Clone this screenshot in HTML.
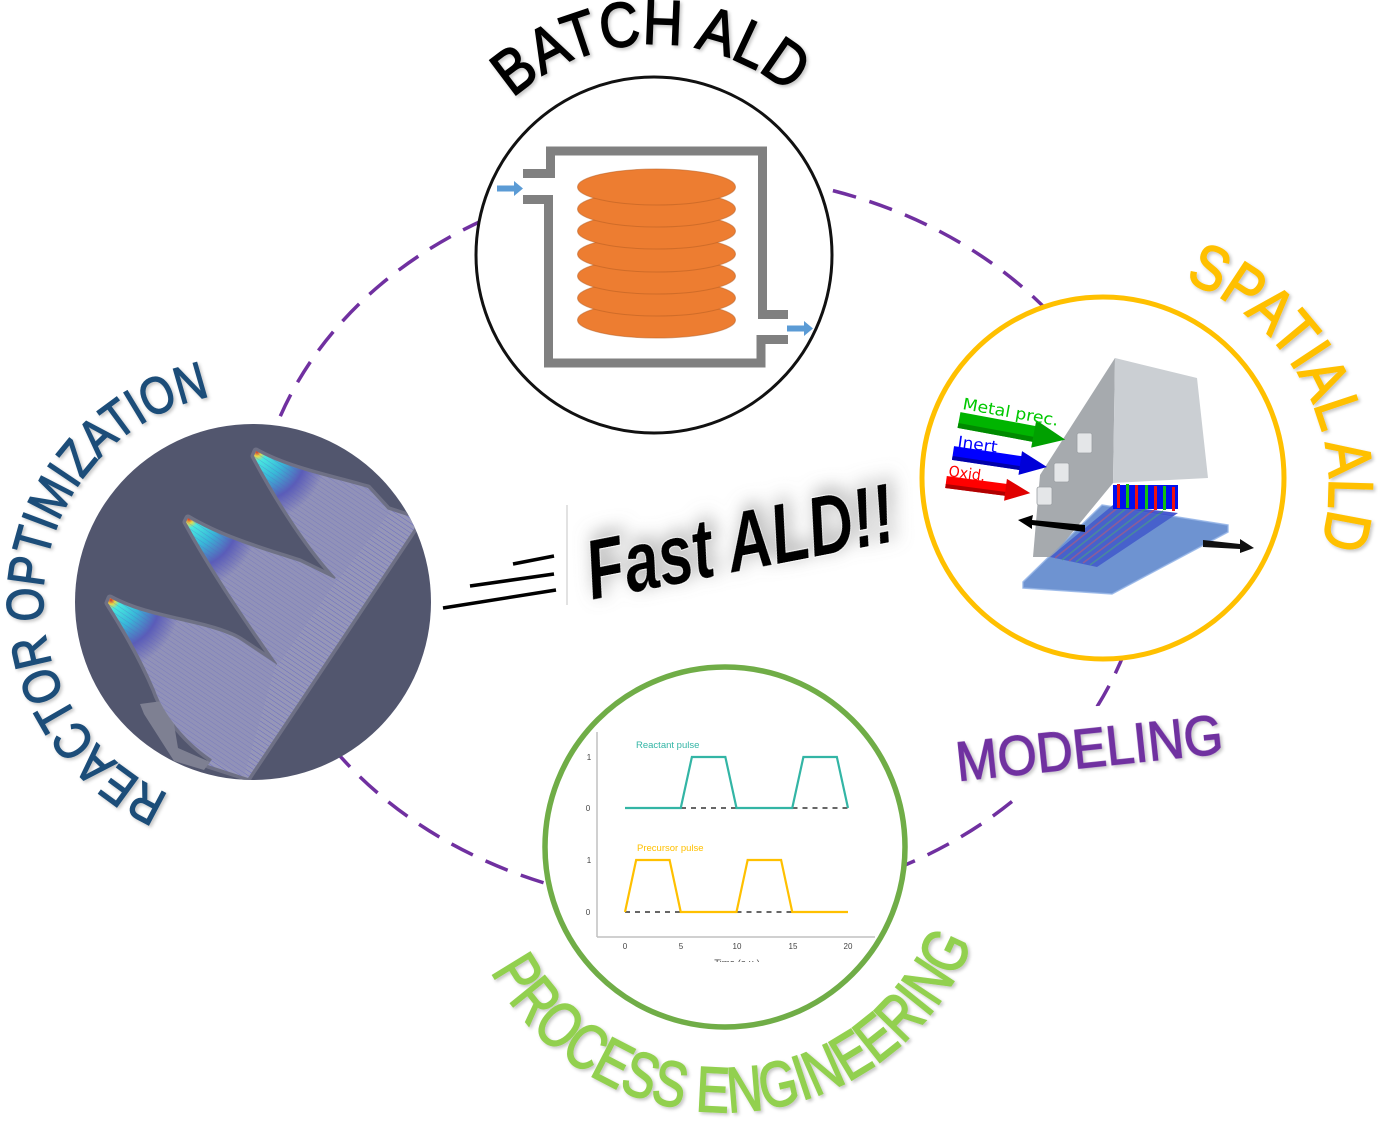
<!DOCTYPE html>
<html><head><meta charset="utf-8">
<style>html,body{margin:0;padding:0;background:#fff}svg{display:block}</style>
</head>
<body>
<svg width="1378" height="1125" viewBox="0 0 1378 1125" xmlns="http://www.w3.org/2000/svg">
<defs>
  <path id="pBatch" d="M512.8,98.2 A211,211 0 0 1 792.4,95.8"/>
  <path id="pSpatial" d="M1184.5,281.1 A219,219 0 0 1 1319.8,549.9"/>
  <path id="pReactor" d="M168.9,794.4 A210,210 0 0 1 213.6,395.7"/>
  <path id="pProcess" d="M491,971.4 A265,265 0 0 0 974,937.6"/>
  <filter id="tsh" x="-10%" y="-10%" width="120%" height="120%">
    <feGaussianBlur in="SourceAlpha" stdDeviation="1.5"/>
    <feOffset dx="2" dy="2" result="o"/>
    <feFlood flood-color="#000" flood-opacity="0.22"/>
    <feComposite in2="o" operator="in" result="s"/>
    <feMerge><feMergeNode in="s"/><feMergeNode in="SourceGraphic"/></feMerge>
  </filter>
  <filter id="fsh" x="-20%" y="-50%" width="140%" height="200%">
    <feGaussianBlur in="SourceAlpha" stdDeviation="9"/>
    <feOffset dx="5" dy="-5" result="o"/>
    <feFlood flood-color="#888" flood-opacity="0.75"/>
    <feComposite in2="o" operator="in" result="s"/>
    <feMerge><feMergeNode in="s"/><feMergeNode in="SourceGraphic"/></feMerge>
  </filter>
  <pattern id="lines" width="4" height="4" patternUnits="userSpaceOnUse" patternTransform="rotate(34)">
    <line x1="0" y1="0" x2="4" y2="0" stroke="#5a5ac8" stroke-width="0.9"/>
  </pattern>
  <radialGradient id="g1" gradientUnits="userSpaceOnUse" cx="257" cy="452" r="70">
    <stop offset="0" stop-color="#d83020"/><stop offset="0.06" stop-color="#e8d848"/>
    <stop offset="0.13" stop-color="#48e8e0"/><stop offset="0.4" stop-color="#38b8d8"/>
    <stop offset="0.7" stop-color="#5a5cb8"/><stop offset="1" stop-color="#9192b8"/>
  </radialGradient>
  <radialGradient id="g2" gradientUnits="userSpaceOnUse" cx="189" cy="519" r="70">
    <stop offset="0" stop-color="#d83020"/><stop offset="0.06" stop-color="#e8d848"/>
    <stop offset="0.13" stop-color="#48e8e0"/><stop offset="0.4" stop-color="#38b8d8"/>
    <stop offset="0.7" stop-color="#5a5cb8"/><stop offset="1" stop-color="#9192b8"/>
  </radialGradient>
  <radialGradient id="g3" gradientUnits="userSpaceOnUse" cx="111" cy="600" r="70">
    <stop offset="0" stop-color="#d83020"/><stop offset="0.06" stop-color="#e8d848"/>
    <stop offset="0.13" stop-color="#48e8e0"/><stop offset="0.4" stop-color="#38b8d8"/>
    <stop offset="0.7" stop-color="#5a5cb8"/><stop offset="1" stop-color="#9192b8"/>
  </radialGradient>
  <clipPath id="cReactor"><circle cx="253" cy="602" r="178"/></clipPath>
  <clipPath id="cProc"><circle cx="725" cy="847" r="178"/></clipPath>
  <clipPath id="cChart"><rect x="560" y="720" width="340" height="242"/></clipPath>
</defs>

<rect width="1378" height="1125" fill="#fff"/>

<!-- dashed ellipse -->
<ellipse cx="700" cy="540" rx="446" ry="366" fill="none" stroke="#7030a0" stroke-width="3.5" stroke-dasharray="24 14"/>

<!-- ===== BATCH ALD ===== -->
<circle cx="654" cy="255" r="178" fill="#fff" stroke="#111" stroke-width="3"/>
<g fill="none" stroke="#808080" stroke-width="9" stroke-linejoin="miter">
  <path d="M523,173.5 H550.5 V151 H762.5 V314.5 H788"/>
  <path d="M523,199.5 H548.5 V363 H761 V339.5 H788"/>
</g>
<g fill="#5b9bd5">
  <polygon points="497,185.5 514,185.5 514,181 523,188.5 514,196 514,191.5 497,191.5"/>
  <polygon points="787,325.5 804,325.5 804,321 813,328.5 804,336 804,331.5 787,331.5"/>
</g>
<g fill="#ed7d31" stroke="#b85f22" stroke-width="1" stroke-opacity="0.55">
  <ellipse cx="656.5" cy="320" rx="79" ry="18"/>
  <ellipse cx="656.5" cy="298" rx="79" ry="18"/>
  <ellipse cx="656.5" cy="276" rx="79" ry="18"/>
  <ellipse cx="656.5" cy="254" rx="79" ry="18"/>
  <ellipse cx="656.5" cy="231" rx="79" ry="18"/>
  <ellipse cx="656.5" cy="209" rx="79" ry="18"/>
  <ellipse cx="656.5" cy="187" rx="79" ry="18"/>
</g>
<text font-family="Liberation Sans, sans-serif" font-size="63" fill="#000" stroke="#000" stroke-width="1.6" filter="url(#tsh)"><textPath href="#pBatch" textLength="302" lengthAdjust="spacingAndGlyphs">BATCH ALD</textPath></text>

<!-- ===== SPATIAL ALD ===== -->
<circle cx="1103" cy="478" r="181" fill="#fff" stroke="#ffc000" stroke-width="5"/>
<polygon points="1102,505 1228,525 1228,532 1112,594 1023,588 1023,582" fill="#7096d2" stroke="#a4c0ec" stroke-width="1.5"/>
<polygon points="1115,358 1040,475 1033,557 1052,557 1113,483" fill="#a6aaae"/>
<polygon points="1115,358 1197,378 1208,478 1113,483" fill="#cbcfd3"/>
<g fill="#e4e6e8" stroke="#9a9ea2" stroke-width="0.8">
  <rect x="1077" y="433" width="15" height="20" rx="2"/>
  <rect x="1054" y="463" width="15" height="19" rx="2"/>
  <rect x="1037" y="487" width="15" height="18" rx="2"/>
</g>
<polygon points="1113,505 1178,513 1097,567 1050,557" fill="#2a3cc8" opacity="0.85"/>
<g stroke-width="1.6" opacity="0.75">
  <line x1="1120" y1="506" x2="1055" y2="558" stroke="#c04060"/>
  <line x1="1128" y1="507" x2="1062" y2="560" stroke="#3a9a6a"/>
  <line x1="1136" y1="508" x2="1069" y2="561" stroke="#c04060"/>
  <line x1="1145" y1="509" x2="1076" y2="562" stroke="#3a9a6a"/>
  <line x1="1154" y1="510" x2="1083" y2="563" stroke="#c04060"/>
  <line x1="1163" y1="511" x2="1090" y2="565" stroke="#3a9a6a"/>
</g>
<polygon points="1102,505 1228,525 1228,532 1112,594 1023,588 1023,582" fill="#6a90d0" opacity="0.35"/>
<g>
  <rect x="1113" y="485" width="65" height="24" fill="#0010ee"/>
  <rect x="1117" y="484" width="3" height="24" fill="#ee1010"/>
  <rect x="1126" y="484" width="3" height="24" fill="#10c010"/>
  <rect x="1135" y="485" width="3" height="24" fill="#ee1010"/>
  <rect x="1145" y="485" width="3" height="24" fill="#10c010"/>
  <rect x="1154" y="486" width="3" height="24" fill="#ee1010"/>
  <rect x="1163" y="486" width="3" height="24" fill="#10c010"/>
  <rect x="1172" y="487" width="3" height="24" fill="#ee1010"/>
</g>
<polygon points="1085,525 1032,520 1033,515 1018,520 1032,529 1032,525 1085,532" fill="#000"/>
<polygon points="1203,540 1240,544 1240,539 1254,548 1240,553 1240,549 1203,547" fill="#111"/>
<g transform="translate(959,420) rotate(10.5)">
  <rect x="0" y="-8" width="78" height="16" fill="#00b400"/>
  <rect x="0" y="3" width="78" height="5" fill="#008a00"/>
  <polygon points="76,-14 108,0 76,14" fill="#00a000"/>
</g>
<g transform="translate(953,453) rotate(8.5)">
  <rect x="0" y="-7" width="70" height="14" fill="#0000ff"/>
  <rect x="0" y="3" width="70" height="4" fill="#0000a8"/>
  <polygon points="68,-12 95,0 68,12" fill="#0000d8"/>
</g>
<g transform="translate(946,482) rotate(7.5)">
  <rect x="0" y="-6" width="62" height="12" fill="#ff0000"/>
  <rect x="0" y="2" width="62" height="4" fill="#b00000"/>
  <polygon points="60,-11 85,0 60,11" fill="#e00000"/>
</g>
<text transform="translate(962,409) rotate(10)" font-family="DejaVu Sans, Liberation Sans, sans-serif" font-size="16" fill="#00c800" textLength="97" lengthAdjust="spacingAndGlyphs">Metal prec.</text>
<text transform="translate(957,447) rotate(8)" font-family="DejaVu Sans, Liberation Sans, sans-serif" font-size="16" fill="#0000ff" textLength="40" lengthAdjust="spacingAndGlyphs">Inert</text>
<text transform="translate(948,476) rotate(8)" font-family="DejaVu Sans, Liberation Sans, sans-serif" font-size="15" fill="#ff0000" textLength="37" lengthAdjust="spacingAndGlyphs">Oxid.</text>
<text font-family="Liberation Sans, sans-serif" font-size="63" fill="#ffc000" stroke="#ffc000" stroke-width="1.6" filter="url(#tsh)"><textPath href="#pSpatial" textLength="328" lengthAdjust="spacingAndGlyphs">SPATIAL ALD</textPath></text>

<!-- ===== REACTOR OPTIMIZATION ===== -->
<circle cx="253" cy="602" r="178" fill="#52566e"/>
<g clip-path="url(#cReactor)">
  <g fill="#727488" stroke="#727488" stroke-width="7" stroke-linejoin="round" opacity="0.9">
    <path d="M256,451 C290,470 335,478 368,488 L390,512 L338,580 C310,550 280,505 254,456 Z"/>
    <path d="M188,518 C225,540 270,552 300,562 L337,580 L278,665 C250,625 215,575 186,522 Z"/>
    <path d="M110,598 C150,620 210,622 240,640 L276,664 L244,776 C200,760 165,720 155,690 C140,655 122,625 108,603 Z"/>
    <polygon points="383,508 420,520 248,778 208,765"/>
  </g>
  <polygon points="140,704 170,700 178,748 210,762 204,770 174,761 144,714" fill="#7e8092"/>
  <polygon points="383,508 420,520 248,778 208,765" fill="#9697b8"/>
  <polygon points="383,508 420,520 248,778 208,765" fill="url(#lines)" opacity="0.8"/>
  <path d="M256,451 C290,470 335,478 368,488 L390,512 L338,580 C310,550 280,505 254,456 Z" fill="url(#g1)"/>
  <path d="M256,451 C290,470 335,478 368,488 L390,512 L338,580 C310,550 280,505 254,456 Z" fill="url(#lines)" opacity="0.45"/>
  <path d="M188,518 C225,540 270,552 300,562 L337,580 L278,665 C250,625 215,575 186,522 Z" fill="url(#g2)"/>
  <path d="M188,518 C225,540 270,552 300,562 L337,580 L278,665 C250,625 215,575 186,522 Z" fill="url(#lines)" opacity="0.45"/>
  <path d="M110,598 C150,620 210,622 240,640 L276,664 L244,776 C200,760 165,720 155,690 C140,655 122,625 108,603 Z" fill="url(#g3)"/>
  <path d="M110,598 C150,620 210,622 240,640 L276,664 L244,776 C200,760 165,720 155,690 C140,655 122,625 108,603 Z" fill="url(#lines)" opacity="0.45"/>
</g>
<text font-family="Liberation Sans, sans-serif" font-size="52" fill="#1f4e79" stroke="#1f4e79" stroke-width="1.4" filter="url(#tsh)"><textPath href="#pReactor" textLength="530" lengthAdjust="spacingAndGlyphs">REACTOR OPTIMIZATION</textPath></text>

<!-- ===== PROCESS ENGINEERING ===== -->
<circle cx="725" cy="847" r="180" fill="#fff" stroke="#70ad47" stroke-width="5.5"/>
<g clip-path="url(#cProc)">
 <g clip-path="url(#cChart)">
  <g stroke="#c0c0c0" stroke-width="1.5">
    <line x1="597" y1="732" x2="597" y2="937"/>
    <line x1="597" y1="937" x2="875" y2="937"/>
  </g>
  <g stroke="#333" stroke-width="1.6" stroke-dasharray="5 5">
    <line x1="681" y1="808" x2="736.5" y2="808"/>
    <line x1="792.5" y1="808" x2="848" y2="808"/>
    <line x1="625" y1="912" x2="680.75" y2="912"/>
    <line x1="736.5" y1="912" x2="792.25" y2="912"/>
  </g>
  <polyline fill="none" stroke="#33b5a5" stroke-width="2.2" points="625,808 680.75,808 691.9,757 725.35,757 736.5,808 792.25,808 803.4,757 836.85,757 848,808"/>
  <polyline fill="none" stroke="#ffc000" stroke-width="2.2" points="625,912 636.15,860 669.6,860 680.75,912 736.5,912 747.65,860 781.1,860 792.25,912 848,912"/>
  <g font-family="Liberation Sans, sans-serif">
    <text x="636" y="748" font-size="9.5" fill="#33b5a5">Reactant pulse</text>
    <text x="637" y="851" font-size="9.5" fill="#ffc000">Precursor pulse</text>
    <g font-size="8" fill="#444" text-anchor="middle">
      <text x="589" y="760">1</text><text x="588" y="811">0</text>
      <text x="589" y="863">1</text><text x="588" y="915">0</text>
      <text x="625" y="949">0</text><text x="681" y="949">5</text>
      <text x="737" y="949">10</text><text x="793" y="949">15</text><text x="848" y="949">20</text>
      <text x="737" y="966" font-size="9.5">Time (a.u.)</text>
    </g>
  </g>
 </g>
</g>
<text font-family="Liberation Sans, sans-serif" font-size="64" fill="#92d050" stroke="#92d050" stroke-width="1.6" filter="url(#tsh)"><textPath href="#pProcess" textLength="605" lengthAdjust="spacingAndGlyphs">PROCESS ENGINEERING</textPath></text>

<!-- ===== MODELING ===== -->
<g transform="translate(958,781) rotate(-6)">
  <rect x="-15" y="-60" width="300" height="80" fill="#fff"/>
  <text x="0" y="0" font-family="Liberation Sans, sans-serif" font-size="56" fill="#7030a0" stroke="#7030a0" stroke-width="1.3" textLength="268" lengthAdjust="spacingAndGlyphs" filter="url(#tsh)">MODELING</text>
</g>

<!-- ===== Fast ALD ===== -->
<line x1="567" y1="505" x2="567" y2="605" stroke="#d8d8d8" stroke-width="1.5"/>
<g stroke="#000" stroke-width="3.5" stroke-linecap="butt">
  <line x1="513" y1="564" x2="554" y2="556"/>
  <line x1="470" y1="586" x2="554" y2="574"/>
  <line x1="443" y1="608" x2="556" y2="590"/>
</g>
<g transform="translate(592,600) rotate(-11)">
  <text x="0" y="0" font-family="Liberation Sans, sans-serif" font-weight="bold" font-style="italic" font-size="84" fill="#000" stroke="#fff" stroke-width="1.5" paint-order="stroke" textLength="312" lengthAdjust="spacingAndGlyphs" filter="url(#fsh)">Fast ALD!!</text>
</g>
</svg>
</body>
</html>
